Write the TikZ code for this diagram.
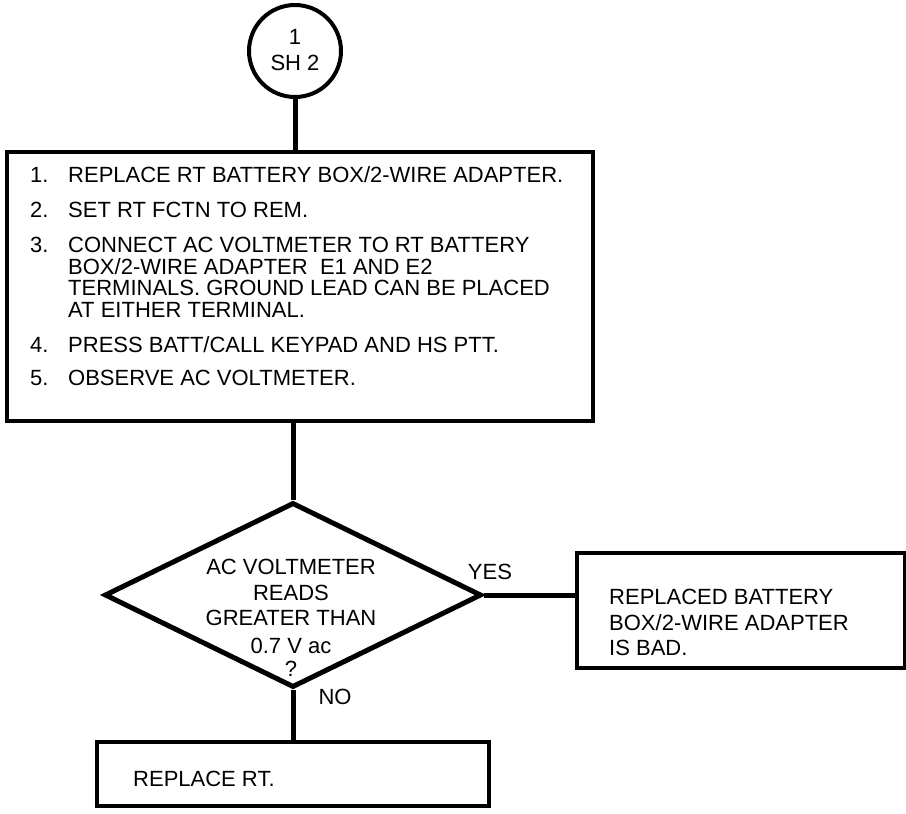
\documentclass[tikz,border=0pt]{standalone}
\usepackage{fontspec}
\setmainfont{Liberation Sans}
\usetikzlibrary{shapes.geometric}
\begin{document}
\begin{tikzpicture}[x=1pt,y=-1pt,
  every node/.style={font=\fontsize{22}{25}\selectfont},
  box/.style={draw, line width=4pt, rectangle, inner sep=0pt},
  conn/.style={line width=5pt},
  txt/.style={anchor=base west, inner sep=0pt},
  ctxt/.style={anchor=base, inner sep=0pt},
  lbl/.style={inner sep=0pt}]
\useasboundingbox (0,0) rectangle (906,814);

% off-page connector
\node[circle, draw, line width=4pt, minimum size=92pt, inner sep=0pt] (c) at (295,51) {};
\node[ctxt] (c1) at (295,44) {1};
\node[ctxt] (c2) at (295,70) {SH 2};

% main instruction box
\node[box, minimum width=586pt, minimum height=269pt] (main) at (300,286.5) {};
\node[txt] (n1) at (30,182) {1.};
\node[txt] (t1) at (68,182) {REPLACE RT BATTERY BOX/2-WIRE ADAPTER.};
\node[txt] (n2) at (30,217) {2.};
\node[txt] (t2) at (68,217) {SET RT FCTN TO REM.};
\node[txt] (n3) at (30,252) {3.};
\node[txt] (t3a) at (68,252) {CONNECT AC VOLTMETER TO RT BATTERY};
\node[txt] (t3b) at (68,274) {BOX/2-WIRE ADAPTER\ \ E1 AND E2};
\node[txt] (t3c) at (68,295) {TERMINALS. GROUND LEAD CAN BE PLACED};
\node[txt] (t3d) at (68,317) {AT EITHER TERMINAL.};
\node[txt] (n4) at (30,352) {4.};
\node[txt] (t4) at (68,352) {PRESS BATT/CALL KEYPAD AND HS PTT.};
\node[txt] (n5) at (30,385) {5.};
\node[txt] (t5) at (68,385) {OBSERVE AC VOLTMETER.};

% decision
\node[diamond, draw, line width=5pt, minimum width=377pt, minimum height=185pt, inner sep=0pt] (d) at (293,595) {};
\node[ctxt] (d1) at (291,574) {AC VOLTMETER};
\node[ctxt] (d2) at (291,600) {READS};
\node[ctxt] (d3) at (291,625) {GREATER THAN};
\node[ctxt] (d4) at (291,653) {0.7 V ac};
\node[ctxt] (d5) at (291,676) {?};

% yes box
\node[box, minimum width=328pt, minimum height=115pt] (yb) at (741,610.5) {};
\node[txt] (y1) at (609,604) {REPLACED BATTERY};
\node[txt] (y2) at (609,630) {BOX/2-WIRE ADAPTER};
\node[txt] (y3) at (609,655) {IS BAD.};

% no box
\node[box, minimum width=392pt, minimum height=64pt] (nb) at (293,774) {};
\node[txt] (nt) at (133,786) {REPLACE RT.};

% labels
\node[lbl] (yes) at (490,572) {YES};
\node[lbl] (no) at (335,697) {NO};

% connectors
\draw[conn] (c.south) -- (c.south |- main.north);
\draw[conn] (d.north |- main.south) -- (d.north);
\draw[conn] (d.east) -- (d.east -| yb.west);
\draw[conn] (d.south) -- (d.south |- nb.north);
\end{tikzpicture}
\end{document}
